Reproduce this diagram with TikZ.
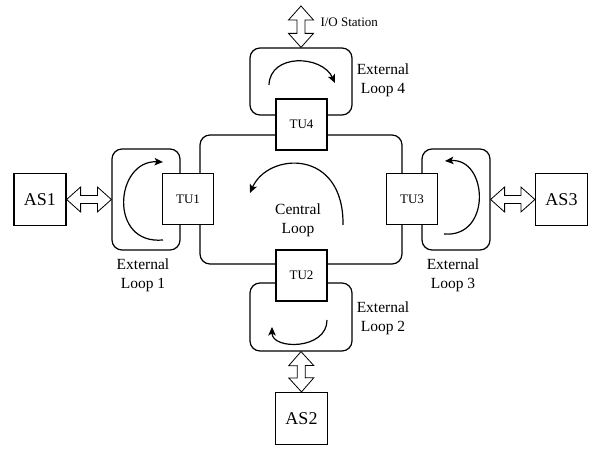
\documentclass[tikz,border=0pt]{standalone}
\usepackage{fontspec}
\setmainfont{Liberation Serif}
\usetikzlibrary{arrows,arrows.meta,calc}
\tikzstyle{ring}=[draw,rounded corners=10pt,line width=1.2pt,inner sep=0pt]
\tikzstyle{tu}=[draw,fill=white,line width=1.2pt,minimum size=51pt,inner sep=0pt,font=\fontsize{13}{15}\selectfont]
\tikzstyle{as}=[draw,line width=1.2pt,minimum size=52pt,inner sep=0pt,font=\fontsize{18}{21}\selectfont]
\tikzstyle{lbl}=[align=center,font=\fontsize{15.5}{19}\selectfont]
\tikzstyle{turn}=[-{Stealth[length=8.5pt,width=7.5pt,inset=2pt]},line width=1.2pt]
\tikzstyle{fat}=[line width=.8pt,to path={
  -- ($(\tikztostart)!14pt!(\tikztotarget)!12.5pt!90:(\tikztotarget)$)
  -- ($(\tikztostart)!14pt!(\tikztotarget)!4pt!90:(\tikztotarget)$)
  -- ($(\tikztotarget)!14pt!(\tikztostart)!4pt!-90:(\tikztostart)$)
  -- ($(\tikztotarget)!14pt!(\tikztostart)!12.5pt!-90:(\tikztostart)$)
  -- (\tikztotarget)
  -- ($(\tikztotarget)!14pt!(\tikztostart)!12.5pt!90:(\tikztostart)$)
  -- ($(\tikztotarget)!14pt!(\tikztostart)!4pt!90:(\tikztostart)$)
  -- ($(\tikztostart)!14pt!(\tikztotarget)!4pt!-90:(\tikztotarget)$)
  -- ($(\tikztostart)!14pt!(\tikztotarget)!12.5pt!-90:(\tikztotarget)$)
  -- cycle}]

\begin{document}
\begin{tikzpicture}[x=1pt,y=1pt]
        \useasboundingbox (0,0) rectangle (595,448);
        % loops
        \node[ring,minimum width=202pt,minimum height=129pt] (cl) at (301,248.5) {};
        \node[ring,minimum width=68pt,minimum height=101pt] (ext1) at (146,248.5) {};
        \node[ring,minimum width=68pt,minimum height=101pt] (ext3) at (456,248.5) {};
        \node[ring,minimum width=102pt,minimum height=67pt] (ext4) at (301,366.5) {};
        \node[ring,minimum width=102pt,minimum height=68pt] (ext2) at (301,131) {};
        % transfer units
        \node[tu] (tu1) at (188,249) {TU1};
        \node[tu] (tu2) at (301.5,172.5) {TU2};
        \node[tu] (tu3) at (412,249) {TU3};
        \node[tu] (tu4) at (301.5,323.5) {TU4};
        % stations
        \node[as] (as1) at (40,248.5) {AS1};
        \node[as] (as2) at (301.5,29.5) {AS2};
        \node[as] (as3) at (561.5,248.5) {AS3};
        \coordinate (io) at (301,442);
        \node[right,font=\fontsize{13}{15}\selectfont] (iolbl) at (317,426) {I/O Station};
        \draw[fat] (as1.east) to (ext1.west);
        \draw[fat] (ext3.east) to (as3.west);
        \draw[fat] (ext2.south) to (as2.north);
        \draw[fat] (io) to (ext4.north);
        % labels
        \node[lbl] (lcl) at (298,228) {Central\\Loop};
        \node[lbl] (l1) at (143,172.5) {External\\Loop 1};
        \node[lbl] (l3) at (453,172.5) {External\\Loop 3};
        \node[lbl] (l4) at (383,368) {External\\Loop 4};
        \node[lbl] (l2) at (383,129.5) {External\\Loop 2};
        % directions
        \draw[turn] (343,223) .. controls (344,300) and (268,296) .. (250,255);
        \draw[turn] (163,208) .. controls (108,203) and (115,288) .. (163,286);
        \draw[turn] (444,214) .. controls (492,210) and (488,290) .. (445,287);
        \draw[turn] (269,363) .. controls (270,395) and (322,393) .. (335,365);
        \draw[turn] (327,128) .. controls (327,98) and (272,98) .. (272,121);
      \end{tikzpicture}
\end{document}
